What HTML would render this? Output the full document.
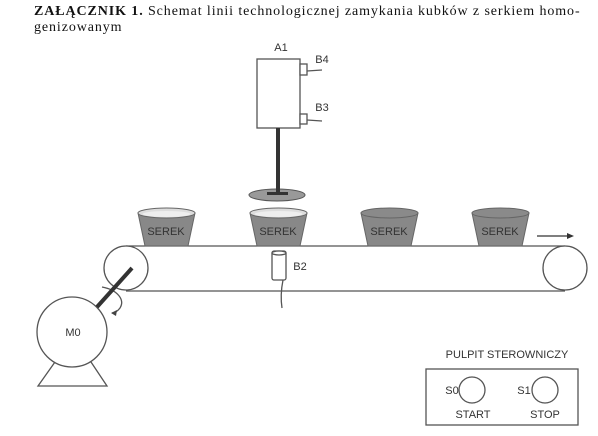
<!DOCTYPE html>
<html><head><meta charset="utf-8"><style>
body{margin:0;background:#fff;width:598px;height:436px;overflow:hidden}
.t{position:absolute;left:34px;top:4px;font:14px "Liberation Serif",serif;line-height:16px;letter-spacing:0.9px;color:#111;width:580px;white-space:nowrap}
</style></head><body>
<div class="t"><b>ZAŁĄCZNIK 1.</b> Schemat linii technologicznej zamykania kubków z serkiem homo-<br>genizowanym</div>
<svg width="598" height="436" style="position:absolute;left:0;top:0" font-family="Liberation Sans, sans-serif">
<g stroke="#555" stroke-width="1.3" fill="none">
<line x1="126" y1="246" x2="565" y2="246"/>
<line x1="126" y1="291" x2="565" y2="291"/>
<circle cx="126" cy="268" r="22" fill="#fff"/>
<circle cx="565" cy="268" r="22" fill="#fff"/>
<rect x="257" y="59" width="43" height="69" fill="#fff"/>
<rect x="300" y="64" width="7" height="11" fill="#fff"/>
<rect x="300" y="114" width="7" height="10" fill="#fff"/>
<path d="M307 71 L322 70 M307 120 L322 121"/>
<path d="M283 280 Q280 295 282 308"/>
<rect x="272" y="251" width="14" height="29" rx="2" fill="#fff"/>
<ellipse cx="279" cy="253" rx="7" ry="2" fill="#fff"/>
<path d="M55 362 L38 386 L107 386 L91 362"/>
<circle cx="72" cy="332" r="35" fill="#fff"/>
<path d="M102 287 C118 290 125 300 120 308 C117 312 114 313 112 313"/>
<rect x="426" y="369" width="152" height="56"/>
<circle cx="472" cy="390" r="13"/>
<circle cx="545" cy="390" r="13"/>
</g>
<line x1="97" y1="307" x2="132" y2="268" stroke="#333" stroke-width="4"/>
<path d="M111 313 L117 310 L116 316 Z" fill="#444"/>
<ellipse cx="277" cy="195" rx="28" ry="6" fill="#999" stroke="#555"/>
<rect x="276" y="128" width="4" height="65" fill="#333"/>
<rect x="267" y="192" width="21" height="3" fill="#333"/>
<g stroke="#666" stroke-width="1">
<path d="M138 213 L145 246 L188 246 L195 213 Z" fill="#888"/>
<ellipse cx="166.5" cy="213" rx="28.5" ry="5" fill="#ddd"/>
<ellipse cx="166.5" cy="214" rx="24" ry="3" fill="#eee" stroke="none"/>
<path d="M250 213 L257 246 L300 246 L307 213 Z" fill="#888"/>
<ellipse cx="278.5" cy="213" rx="28.5" ry="5" fill="#ddd"/>
<ellipse cx="278.5" cy="214" rx="24" ry="3" fill="#eee" stroke="none"/>
<path d="M361 213 L368 246 L411 246 L418 213 Z" fill="#888"/>
<ellipse cx="389.5" cy="213" rx="28.5" ry="5" fill="#8a8a8a"/>
<path d="M472 213 L479 246 L522 246 L529 213 Z" fill="#888"/>
<ellipse cx="500.5" cy="213" rx="28.5" ry="5" fill="#8a8a8a"/>
</g>
<g font-size="11" fill="#333" text-anchor="middle">
<text x="166" y="235">SEREK</text><text x="278" y="235">SEREK</text>
<text x="389" y="235">SEREK</text><text x="500" y="235">SEREK</text>
<text x="281" y="51">A1</text>
<text x="322" y="63">B4</text><text x="322" y="111">B3</text>
<text x="300" y="270">B2</text>
<text x="73" y="336">M0</text>
<text x="507" y="358">PULPIT STEROWNICZY</text>
<text x="473" y="418">START</text><text x="545" y="418">STOP</text>
<text x="452" y="394">S0</text><text x="524" y="394">S1</text>
</g>
<line x1="537" y1="236" x2="568" y2="236" stroke="#333" stroke-width="1.2"/>
<path d="M567 233 L574 236 L567 239 Z" fill="#333"/>
</svg>
</body></html>
